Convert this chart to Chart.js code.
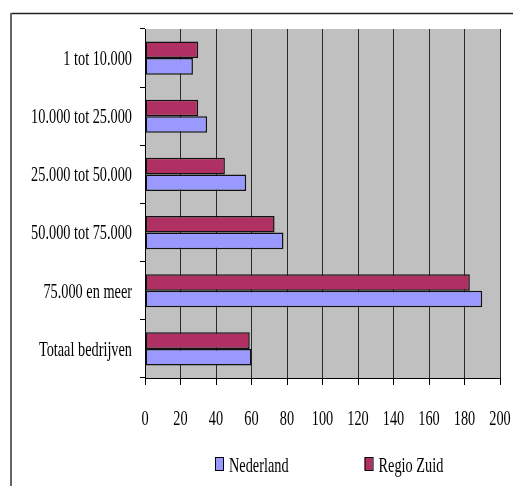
<!DOCTYPE html>
<html>
<head>
<meta charset="utf-8">
<script src="https://cdn.jsdelivr.net/npm/chart.js@4/dist/chart.umd.min.js"></script>
<style>
html,body{margin:0;padding:0;background:#fff;}
#wrap{position:relative;width:513px;height:486px;}
</style>
</head>
<body>
<div id="wrap"><canvas id="c"></canvas></div>
<script>
const categories = ['1 tot 10.000', '10.000 tot 25.000', '25.000 tot 50.000', '50.000 tot 75.000', '75.000 en meer', 'Totaal bedrijven'];
const nederland = [27, 35, 57, 78, 190, 60];
const regioZuid = [30, 30, 45, 73, 183, 59];
const xTickLabels = ['0', '20', '40', '60', '80', '100', '120', '140', '160', '180', '200'];
const seriesNames = ['Nederland', 'Regio Zuid'];

const FONT = '22px "Liberation Serif", "Times New Roman", serif';
const SQUEEZE = 0.65;

function squeezedText(ctx, text, x, y, align) {
  ctx.save();
  ctx.translate(x, y);
  ctx.scale(SQUEEZE, 1);
  ctx.textAlign = align;
  ctx.fillText(text, 0, 0);
  ctx.restore();
}
function squeezedWidth(ctx, text) {
  return ctx.measureText(text).width * SQUEEZE;
}

const decor = {
  id: 'decor',
  beforeDraw(chart) {
    const ctx = chart.ctx, a = chart.chartArea;
    ctx.save();
    ctx.fillStyle = '#C0C0C0';
    ctx.fillRect(a.left, a.top, a.right - a.left, a.bottom - a.top);
    // outer frame
    ctx.strokeStyle = '#222';
    ctx.lineWidth = 1.5;
    ctx.beginPath(); ctx.moveTo(11, 13.5); ctx.lineTo(513, 13.5); ctx.stroke();
    ctx.strokeStyle = '#666';
    ctx.lineWidth = 2;
    ctx.beginPath(); ctx.moveTo(11, 13); ctx.lineTo(11, 486); ctx.stroke();
    ctx.restore();
  },
  afterDraw(chart) {
    const ctx = chart.ctx;
    const ys = chart.scales.y, xs = chart.scales.x;
    ctx.save();
    ctx.font = FONT;
    ctx.fillStyle = '#000';
    ctx.textBaseline = 'middle';
    categories.forEach((c, i) => {
      squeezedText(ctx, c, 132, ys.getPixelForValue(i) + 1, 'right');
    });
    ctx.textBaseline = 'alphabetic';
    xTickLabels.forEach(t => {
      squeezedText(ctx, t, xs.getPixelForValue(Number(t)), 425, 'center');
    });
    // legend (Nederland first, then Regio Zuid)
    let lx = 215;
    const order = [1, 0];
    order.forEach(di => {
      const ds = chart.data.datasets[di];
      ctx.fillStyle = ds.backgroundColor;
      ctx.fillRect(lx, 457, 8, 13);
      ctx.strokeStyle = '#000';
      ctx.lineWidth = 1;
      ctx.strokeRect(lx + 0.5, 457.5, 8, 13);
      ctx.fillStyle = '#000';
      squeezedText(ctx, ds.label, lx + 14, 472, 'left');
      lx += 14 + squeezedWidth(ctx, ds.label) + 76;
    });
    ctx.restore();
  }
};

new Chart(document.getElementById('c'), {
  type: 'bar',
  data: {
    labels: categories,
    datasets: [
      { label: seriesNames[1], data: regioZuid, backgroundColor: '#B03064', borderColor: '#111', borderWidth: 1.5, borderSkipped: false },
      { label: seriesNames[0], data: nederland, backgroundColor: '#9999FF', borderColor: '#111', borderWidth: 1.5, borderSkipped: false }
    ]
  },
  options: {
    indexAxis: 'y',
    responsive: true,
    maintainAspectRatio: false,
    animation: false,
    devicePixelRatio: 1,
    layout: { padding: { left: 145, right: 13, top: 29, bottom: 108 } },
    datasets: { bar: { categoryPercentage: 0.57, barPercentage: 1.0 } },
    plugins: { legend: { display: false }, tooltip: { enabled: false } },
    scales: {
      x: {
        min: 0, max: 200,
        ticks: { display: false, stepSize: 20 },
        grid: { color: '#2a2a2a', lineWidth: 1, drawTicks: true, tickLength: 7, tickColor: '#000' },
        border: { display: true, color: '#000', width: 1 },
        afterFit(s) { s.height = 0; }
      },
      y: {
        ticks: { display: false },
        grid: { offset: true, drawOnChartArea: false, drawTicks: true, tickLength: 5, color: '#000' },
        border: { display: true, color: '#000', width: 1 },
        afterFit(s) { s.width = 0; }
      }
    }
  },
  plugins: [decor]
});
</script>
</body>
</html>
